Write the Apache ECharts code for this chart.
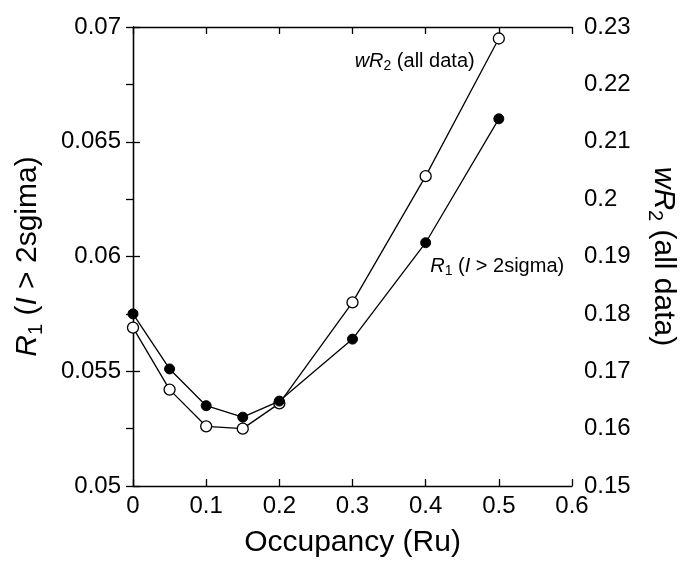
<!DOCTYPE html>
<html>
<head>
<meta charset="utf-8">
<script src="https://cdn.jsdelivr.net/npm/echarts@6/dist/echarts.min.js"></script>
<style>
  html, body { margin: 0; padding: 0; background: #fff; }
  #chart { width: 686px; height: 565px; }
</style>
</head>
<body>
<div id="chart"></div>
<script>
// occupancy values on the x axis
const occupancy = [0, 0.05, 0.1, 0.15, 0.2, 0.3, 0.4, 0.5];
// R1 (I > 2sigma), left axis, filled circles
const r1Values = [0.0575, 0.0551, 0.0535, 0.0530, 0.0537, 0.0564, 0.0606, 0.0660];
// wR2 (all data), right axis, open circles
const wr2Values = [0.1776, 0.1668, 0.1604, 0.1600, 0.1644, 0.1820, 0.2040, 0.2280];

const font = 'Liberation Sans';
const ink = '#000';

const chart = echarts.init(document.getElementById('chart'));

// subscripts sit at the bottom of a taller line box
const richName = {
  n: { fontSize: 30, lineHeight: 36, verticalAlign: 'middle', color: ink, fontFamily: font },
  i: { fontSize: 30, lineHeight: 36, verticalAlign: 'middle', fontStyle: 'italic', color: ink, fontFamily: font },
  sub: { fontSize: 20, lineHeight: 20, verticalAlign: 'bottom', color: ink, fontFamily: font }
};
const richNote = {
  n: { fontSize: 20, lineHeight: 24, verticalAlign: 'middle', color: ink, fontFamily: font },
  i: { fontSize: 20, lineHeight: 24, verticalAlign: 'middle', fontStyle: 'italic', color: ink, fontFamily: font },
  sub: { fontSize: 14, lineHeight: 14, verticalAlign: 'bottom', color: ink, fontFamily: font }
};

const lineStyle = { color: ink, width: 1.3 };
const tick = { show: true, inside: true, length: 7, lineStyle: { color: ink, width: 1.3 } };
const axisLine = { show: true, lineStyle: { color: ink, width: 1.3 } };
const tickLabel = { color: ink, fontSize: 24, fontFamily: font };

const r1Data = occupancy.map((x, k) => [x, r1Values[k]]);
const wr2Data = occupancy.map((x, k) => [x, wr2Values[k]]);

// note labels hang off one point of each curve
r1Data[6] = {
  value: r1Data[6],
  label: {
    show: true, position: [144, 29], align: 'right', verticalAlign: 'middle',
    formatter: '{i|R}{sub|1}{n| (}{i|I}{n| > 2sigma)}', rich: richNote
  }
};
wr2Data[7] = {
  value: wr2Data[7],
  label: {
    show: true, position: [-18, 29], align: 'right', verticalAlign: 'middle',
    formatter: '{i|wR}{sub|2}{n| (all data)}', rich: richNote
  }
};

const option = {
  animation: false,
  backgroundColor: '#fff',
  grid: { left: 133, right: 109, top: 27, bottom: 79 },
  xAxis: [
    {
      type: 'value', min: 0, max: 0.6, interval: 0.1,
      axisLine: axisLine, axisTick: tick, splitLine: { show: false },
      axisLabel: Object.assign({ margin: 8 }, tickLabel),
      name: 'Occupancy (Ru)', nameLocation: 'middle', nameGap: 42,
      nameTextStyle: { color: ink, fontSize: 30, fontFamily: font }
    },
    {
      type: 'value', min: 0, max: 0.6, interval: 0.1, position: 'top',
      axisLine: axisLine, axisTick: tick, splitLine: { show: false },
      axisLabel: { show: false }
    }
  ],
  yAxis: [
    {
      type: 'value', min: 0.05, max: 0.07, interval: 0.005, position: 'left',
      axisLine: axisLine, axisTick: tick, splitLine: { show: false },
      axisLabel: Object.assign({ margin: 12 }, tickLabel),
      name: '{i|R}{sub|1}{n| (}{i|I}{n| > 2sgima)}', nameLocation: 'middle', nameGap: 87, nameRotate: 90,
      nameTextStyle: { rich: richName }
    },
    {
      type: 'value', min: 0.15, max: 0.23, interval: 0.01, position: 'right',
      axisLine: axisLine, axisTick: tick, splitLine: { show: false },
      axisLabel: Object.assign({ margin: 12 }, tickLabel),
      name: '{i|wR}{sub|2}{n| (all data)}', nameLocation: 'middle', nameGap: 73, nameRotate: -90,
      nameTextStyle: { rich: richName }
    }
  ],
  series: [
    {
      name: 'R1', type: 'line', xAxisIndex: 0, yAxisIndex: 0,
      data: r1Data, symbol: 'circle', symbolSize: 10,
      itemStyle: { color: ink, borderColor: ink, borderWidth: 1 },
      lineStyle: lineStyle, z: 3
    },
    {
      name: 'wR2', type: 'line', xAxisIndex: 0, yAxisIndex: 1,
      data: wr2Data, symbol: 'circle', symbolSize: 11,
      itemStyle: { color: '#fff', borderColor: ink, borderWidth: 1.3 },
      lineStyle: lineStyle, z: 2
    }
  ]
};

chart.setOption(option);
</script>
</body>
</html>
